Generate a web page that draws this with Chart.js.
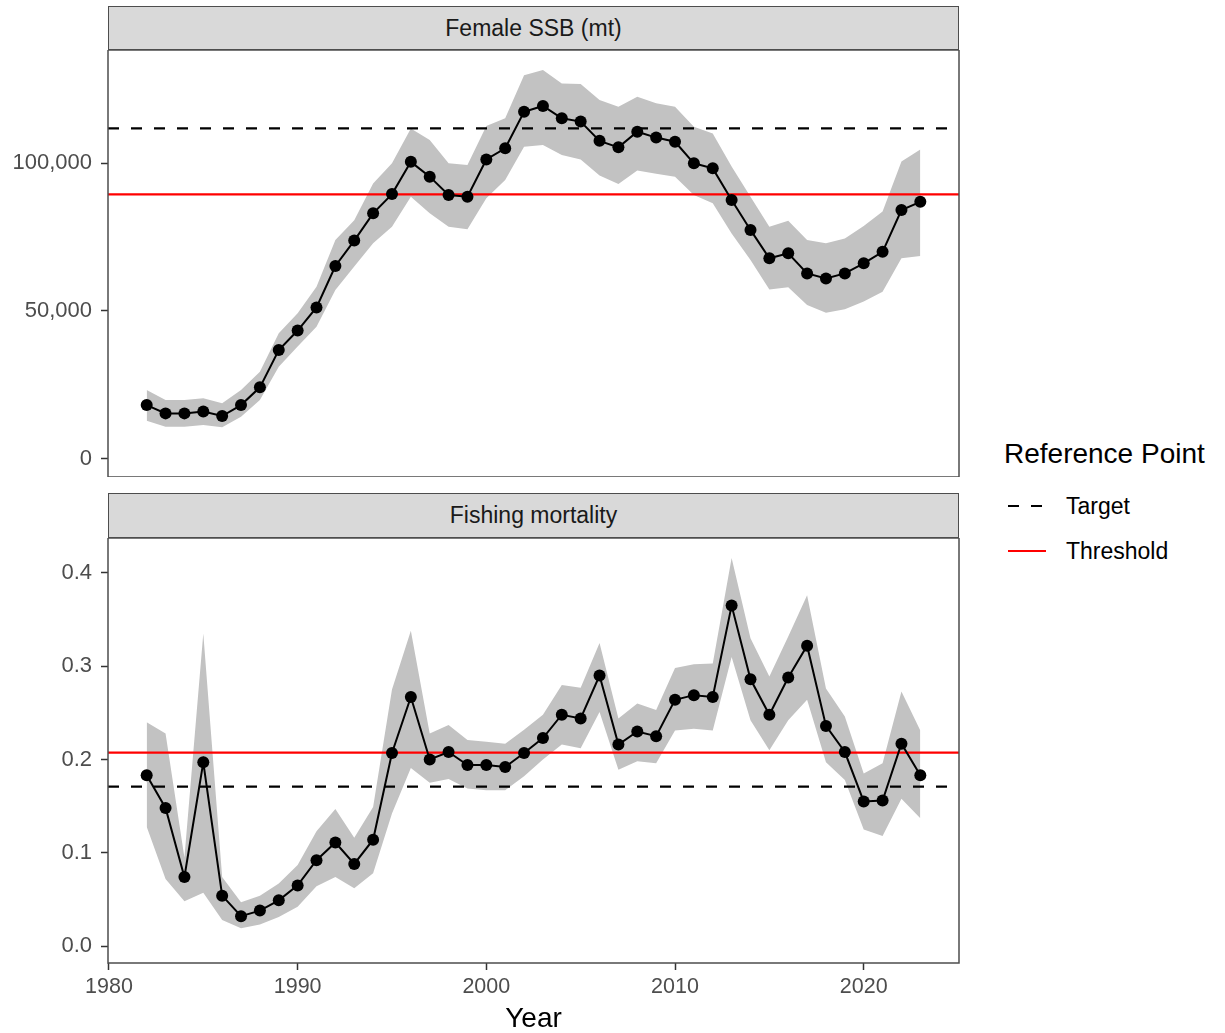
<!doctype html>
<html>
<head>
<meta charset="utf-8" />
<title>Female SSB and Fishing mortality</title>
<script src="https://cdn.jsdelivr.net/npm/chart.js"></script>
<style>
  body { margin:0; background:#fff; font-family:"Liberation Sans", Arial, sans-serif; }
  #page { position:relative; width:1225px; height:1033px; overflow:hidden; }
  .strip { position:absolute; left:108px; width:851px; box-sizing:border-box; background:#d9d9d9;
           border:1.5px solid #4d4d4d; color:#1a1a1a; font-size:23px; display:flex; align-items:center; justify-content:center; }
  canvas { position:absolute; left:0; }
  .leg { position:absolute; color:#000; }
  .legtitle { left:1004px; top:438px; font-size:28px; }
  .legitem { left:1008px; font-size:23px; display:flex; align-items:center; height:30px; }
  .legitem svg { margin-right:20px; }
</style>
</head>
<body>
<div id="page">
  <div class="strip" style="top:6px;height:44px;">Female SSB (mt)</div>
  <canvas id="ssb" width="962" height="427" style="top:50px;"></canvas>
  <div class="strip" style="top:493px;height:45px;">Fishing mortality</div>
  <canvas id="fm" width="962" height="495" style="top:538px;"></canvas>

  <div class="leg legtitle">Reference Point</div>
  <div class="leg legitem" style="top:491px;">
    <svg width="38" height="4"><line x1="0" y1="2" x2="38" y2="2" stroke="#000" stroke-width="2.2" stroke-dasharray="11 12"/></svg>Target
  </div>
  <div class="leg legitem" style="top:536px;">
    <svg width="38" height="4"><line x1="0" y1="2" x2="38" y2="2" stroke="#ff0000" stroke-width="2.2"/></svg>Threshold
  </div>
</div>

<script>
// data
const years = [1982, 1983, 1984, 1985, 1986, 1987, 1988, 1989, 1990, 1991, 1992, 1993, 1994, 1995,
  1996, 1997, 1998, 1999, 2000, 2001, 2002, 2003, 2004, 2005, 2006, 2007, 2008, 2009,
  2010, 2011, 2012, 2013, 2014, 2015, 2016, 2017, 2018, 2019, 2020, 2021, 2022, 2023];

const ssb = [18200, 15400, 15400, 16000, 14500, 18200, 24200, 36800, 43400, 51200, 65200, 73800, 83000, 89500,
  100400, 95400, 89200, 88600, 101200, 105000, 117300, 119300, 115100, 114000, 107500, 105300, 110600, 108600,
  107200, 99900, 98200, 87500, 77400, 67800, 69500, 62700, 61000, 62700, 66100, 70000, 84100, 86900];
const ssbHi = [23300, 19900, 19900, 20500, 18800, 23300, 29500, 42500, 49200, 58200, 74000, 80700, 93100, 99900,
  111700, 107800, 99900, 99300, 112500, 115100, 129700, 131400, 126900, 126700, 121300, 119000, 122400, 120200,
  119000, 112300, 110000, 98800, 88600, 78500, 80500, 74000, 72900, 74500, 78700, 83600, 100500, 104600];
const ssbLo = [12900, 10900, 10900, 11500, 10700, 14300, 19900, 31200, 38000, 44700, 57100, 65000, 72900, 78500,
  88600, 83000, 78500, 77600, 88100, 94300, 105500, 106100, 102700, 101200, 95800, 92900, 97500, 96400,
  95400, 89200, 86400, 76200, 67200, 57300, 58000, 52000, 49400, 50600, 53200, 56500, 67800, 68600];

const fm = [0.183, 0.148, 0.074, 0.197, 0.054, 0.032, 0.038, 0.049, 0.065, 0.092, 0.111, 0.088, 0.114, 0.207,
  0.267, 0.200, 0.208, 0.194, 0.194, 0.192, 0.207, 0.223, 0.248, 0.244, 0.290, 0.216, 0.230, 0.225,
  0.264, 0.269, 0.267, 0.365, 0.286, 0.248, 0.288, 0.322, 0.236, 0.208, 0.155, 0.156, 0.217, 0.183];
const fmHi = [0.240, 0.228, 0.095, 0.335, 0.074, 0.047, 0.054, 0.067, 0.087, 0.123, 0.147, 0.116, 0.149, 0.275,
  0.338, 0.228, 0.237, 0.221, 0.219, 0.217, 0.232, 0.248, 0.280, 0.277, 0.325, 0.244, 0.260, 0.253,
  0.298, 0.302, 0.303, 0.416, 0.330, 0.289, 0.332, 0.376, 0.276, 0.246, 0.185, 0.196, 0.273, 0.231];
const fmLo = [0.128, 0.072, 0.048, 0.057, 0.028, 0.019, 0.023, 0.031, 0.042, 0.064, 0.074, 0.062, 0.078, 0.142,
  0.191, 0.175, 0.179, 0.169, 0.167, 0.167, 0.182, 0.200, 0.216, 0.212, 0.251, 0.189, 0.198, 0.196,
  0.231, 0.233, 0.231, 0.310, 0.242, 0.210, 0.242, 0.264, 0.197, 0.178, 0.125, 0.118, 0.158, 0.137];

// reference points
const ssbTarget = 111700, ssbThreshold = 89400;
const fmTarget = 0.171, fmThreshold = 0.2073;

// tick labels
const xTicks = [1980, 1990, 2000, 2010, 2020];
const ssbTicks = [0, 50000, 100000];
const fmTicks = [0, 0.1, 0.2, 0.3, 0.4];

const X_MIN = 1979.95, X_MAX = 2025.05;
const TICK_COLOR = '#333333', LABEL_COLOR = '#4d4d4d';
const FONT = '"Liberation Sans", Arial, sans-serif';

// panel border on top of everything
const panelBorder = {
  id: 'panelBorder',
  afterDraw(chart) {
    const { ctx, chartArea: a } = chart;
    ctx.save();
    ctx.strokeStyle = '#4d4d4d';
    ctx.lineWidth = 1.5;
    ctx.strokeRect(a.left, a.top, a.right - a.left, a.bottom - a.top);
    ctx.restore();
  }
};

const pts = (vals) => years.map((y, i) => ({ x: y, y: vals[i] }));
const hline = (v) => [{ x: X_MIN, y: v }, { x: X_MAX, y: v }];

function datasets(mid, lo, hi, target, threshold) {
  return [
    { data: pts(mid), borderColor: '#000', borderWidth: 2, pointRadius: 6, pointHoverRadius: 6,
      pointBackgroundColor: '#000', pointBorderWidth: 0, order: 0 },
    { data: hline(target), borderColor: '#000', borderWidth: 2.2, borderDash: [11, 12], pointRadius: 0, order: 1 },
    { data: hline(threshold), borderColor: '#ff0000', borderWidth: 2.2, pointRadius: 0, order: 1 },
    { data: pts(lo), borderWidth: 0, pointRadius: 0, fill: false, order: 3 },
    { data: pts(hi), borderWidth: 0, pointRadius: 0, fill: '-1', backgroundColor: 'rgb(194,194,194)', order: 2 }
  ];
}

function yScale(min, max, ticks, fmt) {
  return {
    type: 'linear', min, max,
    afterBuildTicks: s => { s.ticks = ticks.map(v => ({ value: v })); },
    afterFit: s => { s.width = 108; s.paddingTop = 0; s.paddingBottom = 0; },
    border: { display: false },
    grid: { drawOnChartArea: false, drawTicks: true, tickLength: 7, tickWidth: 1.5, color: TICK_COLOR },
    ticks: { color: LABEL_COLOR, font: { family: FONT, size: 22 }, padding: 9, callback: fmt }
  };
}

const common = {
  responsive: false,
  animation: false,
  events: [],
  plugins: { legend: { display: false }, tooltip: { enabled: false } }
};

new Chart(document.getElementById('ssb'), {
  type: 'line',
  data: { datasets: datasets(ssb, ssbLo, ssbHi, ssbTarget, ssbThreshold) },
  options: {
    ...common,
    layout: { autoPadding: false, padding: { left: 0, right: 3, top: 0, bottom: 0 } },
    scales: {
      x: { type: 'linear', min: X_MIN, max: X_MAX, display: false },
      y: yScale(-6100, 138200, ssbTicks, v => v.toLocaleString('en-US'))
    }
  },
  plugins: [panelBorder]
});

new Chart(document.getElementById('fm'), {
  type: 'line',
  data: { datasets: datasets(fm, fmLo, fmHi, fmTarget, fmThreshold) },
  options: {
    ...common,
    layout: { autoPadding: false, padding: { left: 0, right: 3, top: 0, bottom: 0 } },
    scales: {
      x: {
        type: 'linear', min: X_MIN, max: X_MAX,
        afterBuildTicks: s => { s.ticks = xTicks.map(v => ({ value: v })); },
        afterFit: s => { s.height = 70; },
        border: { display: false },
        grid: { drawOnChartArea: false, drawTicks: true, tickLength: 7, tickWidth: 1.5, color: TICK_COLOR },
        ticks: { color: LABEL_COLOR, font: { family: FONT, size: 21.5 }, padding: 4, maxRotation: 0,
                 callback: v => String(v) },
        title: { display: true, text: 'Year', color: '#000', font: { family: FONT, size: 28, lineHeight: 1.0 },
                 padding: { top: 0, bottom: 0 } }
      },
      y: yScale(-0.0182, 0.4375, fmTicks, v => v.toFixed(1))
    }
  },
  plugins: [panelBorder]
});
</script>
</body>
</html>
